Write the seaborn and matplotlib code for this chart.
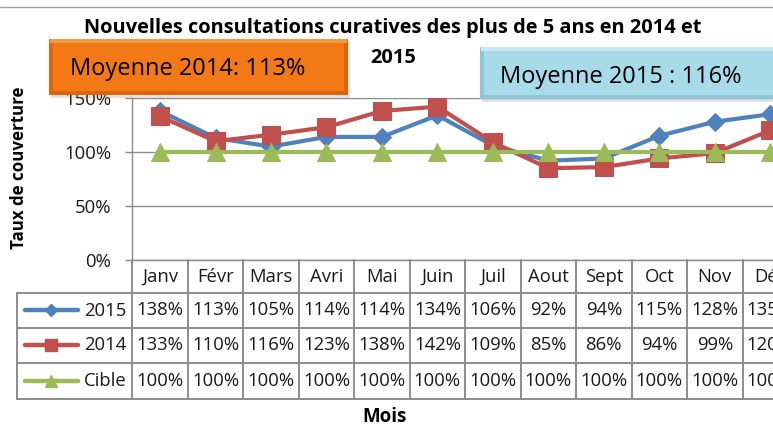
import matplotlib
matplotlib.use('Agg')
import matplotlib.pyplot as plt
import seaborn as sns
import pandas as pd
from matplotlib.transforms import blended_transform_factory, Affine2D
from matplotlib.patches import Rectangle
from matplotlib.lines import Line2D

# ---------------- data ----------------
months = ['Janv', 'Févr', 'Mars', 'Avri', 'Mai', 'Juin', 'Juil', 'Aout', 'Sept', 'Oct', 'Nov', 'Déc']
v2015 = [138, 113, 105, 114, 114, 134, 106, 92, 94, 115, 128, 135]
v2014 = [133, 110, 116, 123, 138, 142, 109, 85, 86, 94, 99, 120]
cible = [100, 100, 100, 100, 100, 100, 100, 100, 100, 100, 100, 100]
series_names = ['2015', '2014', 'Cible']
y_ticks = [0, 50, 100, 150]
title_l1 = 'Nouvelles consultations curatives des plus de 5 ans en 2014 et'
title_l2 = '2015'
box_2014 = 'Moyenne 2014: 113%'
box_2015 = 'Moyenne 2015 : 116%'
y_label = 'Taux de couverture'
x_label = 'Mois'

series_vals = {'2015': v2015, '2014': v2014, 'Cible': cible}
colors = {'2015': '#4F81BD', '2014': '#C0504D', 'Cible': '#9BBB59'}
markers = {'2015': 'D', '2014': 's', 'Cible': '^'}
msizes = {'2015': 9, '2014': 12.5, 'Cible': 13}

sns.set_theme(style='white')
plt.rcParams['font.family'] = ['Open Sans', 'DejaVu Sans']

W, H = 773, 425
fig = plt.figure(figsize=(W / 100, H / 100), dpi=100)
fig.patch.set_facecolor('white')
T = Affine2D().scale(1 / W, -1 / H).translate(0, 1) + fig.transFigure

x0, x1 = 132.3, 798.0
ax = fig.add_axes([x0 / W, (H - 260) / H, (x1 - x0) / W, 162 / H])
ax.set_facecolor('white')

df = pd.DataFrame({
    'x': list(range(len(months))) * 3,
    'val': v2015 + v2014 + cible,
    'serie': ['2015'] * 12 + ['2014'] * 12 + ['Cible'] * 12,
})
for s in series_names:
    d = df[df['serie'] == s]
    sns.lineplot(data=d, x='x', y='val', ax=ax, color=colors[s], marker=markers[s],
                 markersize=msizes[s], markeredgecolor=colors[s], linewidth=3.0,
                 legend=False, clip_on=False, zorder=3)

fs = 13.3
ax.set_xlim(-0.5, 11.5)
ax.set_ylim(0, 150)
ax.set_yticks(y_ticks)
ax.set_yticklabels([f'{t}%' for t in y_ticks], fontsize=fs, color='#1a1a1a')
ax.set_xticks([])
ax.set_xlabel('')
ax.set_ylabel('')
grid_c = '#8C8C8C'
ax.yaxis.grid(True, color=grid_c, linewidth=1.0)
ax.tick_params(axis='y', length=5, width=1.0, color=grid_c, pad=10, left=True)
for sp in ['top', 'right']:
    ax.spines[sp].set_visible(False)
for sp in ['left', 'bottom']:
    ax.spines[sp].set_color(grid_c)
    ax.spines[sp].set_linewidth(1.0)

# ---------------- data table ----------------
bt = blended_transform_factory(ax.transData, T)
tab_c = '#8C8C8C'
tlw = 1.4
for k in range(len(months) + 1):
    ax.add_line(Line2D([k - 0.5, k - 0.5], [260, 399], transform=bt, color=tab_c,
                       lw=tlw, clip_on=False))
for yy in [293, 328, 363, 399]:
    fig.add_artist(Line2D([17, W + 5], [yy, yy], transform=T, color=tab_c, lw=tlw))
fig.add_artist(Line2D([17, 17], [293, 399], transform=T, color=tab_c, lw=tlw))

for i, m in enumerate(months):
    ax.text(i, 277, m, transform=bt, ha='center', va='center', fontsize=fs,
            color='#1a1a1a', clip_on=False)
row_y = {'2015': 310.5, '2014': 345.5, 'Cible': 381}
for s in series_names:
    yc = row_y[s]
    for i, v in enumerate(series_vals[s]):
        ax.text(i, yc, f'{v}%', transform=bt, ha='center', va='center', fontsize=fs,
                color='#1a1a1a', clip_on=False)
    fig.add_artist(Line2D([25, 78], [yc, yc], transform=T, color=colors[s], lw=3.2,
                          solid_capstyle='round'))
    fig.add_artist(Line2D([51], [yc], transform=T, color=colors[s], marker=markers[s],
                          markersize=msizes[s] * 0.7, markeredgecolor=colors[s], lw=0))
    fig.text(84 / W, 1 - yc / H, s, ha='left', va='center', fontsize=fs, color='#1a1a1a')

# ---------------- titles and labels ----------------
fig.text(393 / W, 1 - 33 / H, title_l1, ha='center', va='baseline', fontsize=14.4,
         fontweight='bold', color='black')
fig.text(393 / W, 1 - 63 / H, title_l2, ha='center', va='baseline', fontsize=14.4,
         fontweight='bold', color='black')
fig.text(19 / W, 1 - 168 / H, y_label, rotation=90, ha='center', va='center',
         fontsize=12.2, fontweight='bold', color='black')
fig.text(385 / W, 1 - 417 / H, x_label, ha='center', va='center', fontsize=13.5,
         fontweight='bold', color='black')

# top border line of chart area
fig.add_artist(Line2D([0, W], [7, 7], transform=T, color='#A0A0A0', lw=1.0))

# ---------------- average boxes ----------------
def avg_box(xl, yt, xr, yb, outer, top, face, text, tx, tbase):
    fig.add_artist(Rectangle((xl + 2, yt + 3), xr - xl, yb - yt, transform=T,
                             facecolor='#606060', alpha=0.18, edgecolor='none', zorder=5))
    fig.add_artist(Rectangle((xl, yt), xr - xl, yb - yt, transform=T,
                             facecolor=outer, edgecolor='none', zorder=6))
    fig.add_artist(Rectangle((xl + 1, yt), xr - xl - 2, 4, transform=T,
                             facecolor=top, edgecolor='none', zorder=6))
    fig.add_artist(Rectangle((xl + 4, yt + 4), xr - xl - 8, yb - yt - 8, transform=T,
                             facecolor=face, edgecolor='none', zorder=6))
    fig.text(tx / W, 1 - tbase / H, text, ha='left', va='baseline', fontsize=17,
             color='black', zorder=7)

avg_box(49, 39, 348, 95, '#DC640C', '#F79A48', '#F27916', box_2014, 70, 75)
avg_box(480, 47, 790, 99, '#8CC6D7', '#C6E9F2', '#A7DBEA', box_2015, 500, 83)

fig.savefig('out.png', dpi=100, facecolor='white')
